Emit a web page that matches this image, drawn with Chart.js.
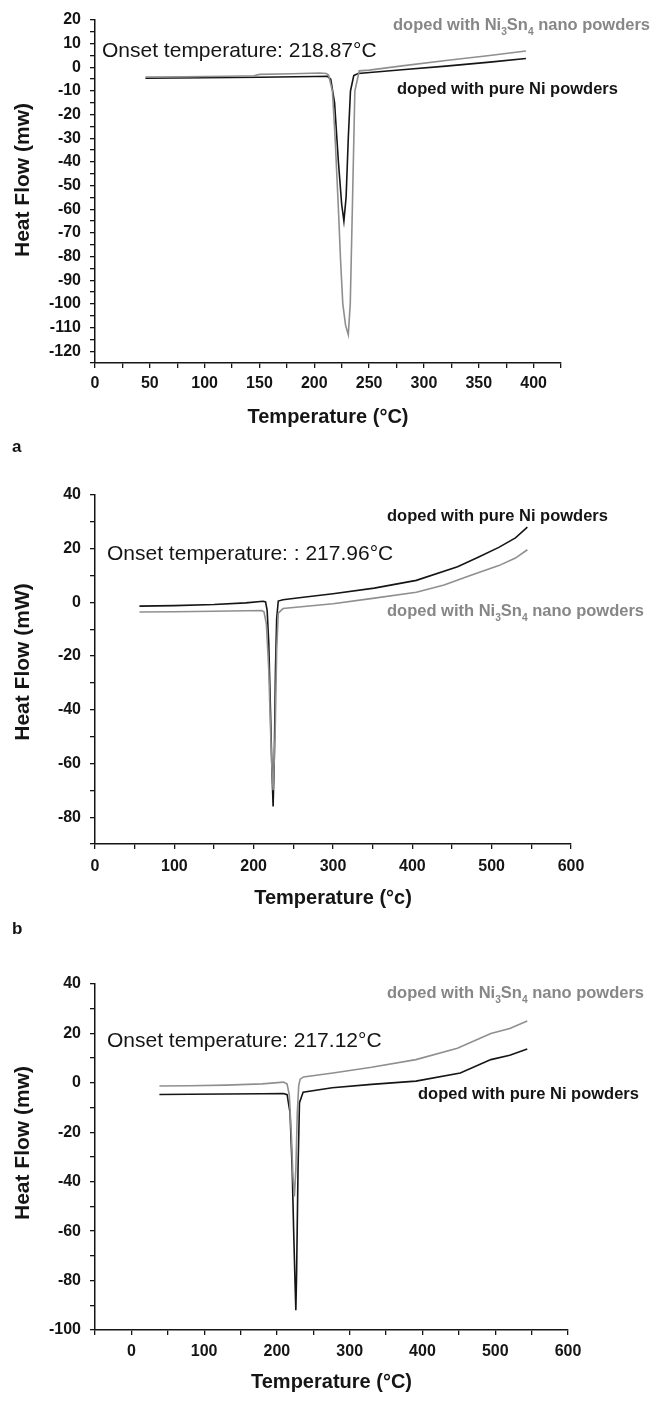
<!DOCTYPE html>
<html>
<head>
<meta charset="utf-8">
<script src="https://cdn.jsdelivr.net/npm/chart.js@4.4.1/dist/chart.umd.min.js"></script>
<style>
  html, body { margin: 0; padding: 0; background: #fff; }
  body { position: relative; width: 652px; height: 1407px; overflow: hidden; }
  canvas { position: absolute; left: 0; }
  .tag { position: absolute; left: 12px; font: bold 17px "Liberation Sans", Arial, sans-serif; color: #111; }
</style>
</head>
<body>
<canvas id="dscA" width="652" height="440" style="top:0"></canvas>
<canvas id="dscB" width="652" height="480" style="top:440px"></canvas>
<canvas id="dscC" width="652" height="487" style="top:920px"></canvas>
<div class="tag" style="top:437px">a</div>
<div class="tag" style="top:919px">b</div>

<script>
// (a) DSC curves up to 425 °C
const aTempNi3Sn4 = [46, 80, 120, 145, 150, 180, 205, 211, 213, 216.5, 219, 222, 224, 226, 228.5, 231, 232.8, 234.7, 237, 241, 250, 280, 320, 360, 393];
const aFlowNi3Sn4 = [-4.1, -4.0, -3.8, -3.6, -3.0, -2.7, -2.4, -2.6, -3.2, -10, -30, -60, -82, -100, -109, -113, -100, -60, -10, -1.5, -1.2, 0.6, 2.9, 5.0, 6.9];
const aTempNi = [46, 100, 150, 200, 212, 215, 218.5, 222, 225, 227, 229, 231, 233, 236, 240, 280, 320, 360, 393];
const aFlowNi = [-4.6, -4.4, -4.2, -3.9, -3.8, -5, -15, -40, -58, -65, -55, -30, -10, -3.5, -2.6, -1.0, 0.5, 2.2, 3.7];

// (b) DSC curves up to 600 °C
const bTempNi = [56, 100, 150, 190, 212, 215, 217, 219, 221, 223, 224.5, 226, 227.5, 229, 231, 237, 260, 300, 352, 405, 457, 483, 509, 530, 545];
const bFlowNi = [-1.4, -1.2, -0.8, -0.2, 0.4, 0.2, -3, -15, -38, -62, -76, -58, -25, -6, 0.5, 1.0, 1.8, 3.2, 5.3, 8.2, 13.3, 16.8, 20.5, 24, 28];
const bTempNi3Sn4 = [56, 100, 150, 190, 210, 213, 216, 219, 221, 223, 224.5, 227, 229, 231, 237, 260, 300, 350, 405, 440, 473, 509, 530, 545];
const bFlowNi3Sn4 = [-3.6, -3.5, -3.3, -3.1, -3.0, -3.5, -8, -25, -45, -62, -70, -50, -18, -4, -2.3, -1.6, -0.5, 1.5, 3.8, 6.5, 10, 13.7, 16.5, 19.6];

// (c) DSC curves, axis from -50 °C
const cTempNi3Sn4 = [38.5, 80, 130, 180, 209, 214, 217, 220, 222, 224, 226, 228, 230, 232, 236.5, 277, 330, 391, 448, 494, 520, 544];
const cFlowNi3Sn4 = [-1.3, -1.2, -0.9, -0.4, 0.3, -0.5, -5, -22, -38, -46, -35, -12, -1, 1.5, 2.4, 4, 6.3, 9.4, 14, 20, 22, 25];
const cTempNi = [38.5, 80, 130, 180, 209, 214, 218, 221, 223, 225, 226, 227, 229, 231, 236, 276, 330, 391, 452, 494, 520, 544];
const cFlowNi = [-4.7, -4.6, -4.5, -4.4, -4.3, -4.8, -12, -35, -60, -82, -92, -78, -35, -8, -3.8, -2, -0.6, 0.7, 4, 9.4, 11.2, 13.7];

const FONT = '"Liberation Sans", Arial, sans-serif';
const INK = '#151515';
const GREY_LINE = '#8f8f8f';
const GREY_TEXT = '#878787';

const toPoints = (xs, ys) => xs.map((x, i) => ({ x, y: ys[i] }));

// draws free text labels (with optional subscripts) in canvas pixels,
// plus the rotated y-axis title
const notesPlugin = {
  id: 'notes',
  afterDraw(chart, args, opts) {
    const ctx = chart.ctx;
    (opts.items || []).forEach(item => {
      ctx.save();
      ctx.fillStyle = item.color;
      ctx.textBaseline = 'alphabetic';
      ctx.textAlign = 'left';
      let x = item.x;
      item.parts.forEach(p => {
        const size = p.sub ? item.size * 0.62 : item.size;
        ctx.font = `${item.weight} ${size}px ${FONT}`;
        ctx.fillText(p.t, x, item.y + (p.sub ? item.size * 0.28 : 0));
        x += ctx.measureText(p.t).width;
      });
      ctx.restore();
    });
    if (opts.yTitle) {
      const t = opts.yTitle;
      ctx.save();
      ctx.translate(t.x, t.y);
      ctx.rotate(-Math.PI / 2);
      ctx.font = `bold 21px ${FONT}`;
      ctx.fillStyle = INK;
      ctx.textAlign = 'center';
      ctx.textBaseline = 'middle';
      ctx.fillText(t.text, 0, 0);
      ctx.restore();
    }
  }
};

const ni3sn4Label = (x, y) => ({
  x, y, size: 16.5, weight: 'bold', color: GREY_TEXT,
  parts: [{ t: 'doped with Ni' }, { t: '3', sub: true }, { t: 'Sn' }, { t: '4', sub: true }, { t: ' nano powders' }]
});
const niLabel = (x, y) => ({
  x, y, size: 16.5, weight: 'bold', color: INK,
  parts: [{ t: 'doped with pure Ni powders' }]
});
const onsetLabel = (text, x, y) => ({
  x, y, size: 21, weight: 'normal', color: INK, parts: [{ t: text }]
});

function makePanel(id, cfg) {
  const canvas = document.getElementById(id);
  const H = canvas.height;
  const axisLine = { color: INK, width: 1.5 };
  const grid = { display: true, drawOnChartArea: false, drawTicks: true, tickLength: 5, color: INK, lineWidth: 1.3 };
  return new Chart(canvas, {
    type: 'line',
    data: {
      datasets: cfg.series.map(s => ({
        data: toPoints(s.x, s.y),
        borderColor: s.color,
        borderWidth: 1.6,
        pointRadius: 0,
        tension: 0,
        fill: false
      }))
    },
    options: {
      responsive: false,
      animation: false,
      layout: { padding: { top: cfg.top, right: 652 - cfg.right, left: 0, bottom: 0 } },
      plugins: {
        legend: { display: false },
        tooltip: { enabled: false },
        notes: { items: cfg.notes, yTitle: { text: cfg.yTitle, x: 23, y: cfg.yTitleAt } }
      },
      scales: {
        x: {
          type: 'linear',
          min: cfg.xMin, max: cfg.xMax,
          border: axisLine, grid,
          afterFit(scale) {
            scale.height = H - cfg.bottom;
            scale.paddingLeft = 0; scale.paddingRight = 0;
          },
          ticks: {
            stepSize: cfg.xStep, autoSkip: false, maxRotation: 0, padding: cfg.xPad,
            color: INK, font: { family: FONT, size: 16, weight: 'bold' },
            callback: v => (v % cfg.xLabelEvery === 0 && v >= 0 ? String(v) : '')
          },
          title: {
            display: true, text: cfg.xTitle, color: INK,
            font: { family: FONT, size: 20, weight: 'bold' },
            padding: { top: 0, bottom: cfg.xTitlePad }
          }
        },
        y: {
          type: 'linear',
          min: cfg.yMin, max: cfg.yMax,
          border: axisLine, grid,
          afterFit(scale) {
            scale.width = 95;
            scale.paddingTop = 0; scale.paddingBottom = 0;
          },
          ticks: {
            stepSize: cfg.yStep, autoSkip: false, padding: 9,
            color: INK, font: { family: FONT, size: 16, weight: 'bold' },
            callback: v => (v % cfg.yLabelEvery === 0 ? String(v) : '')
          },
          title: { display: false }
        }
      }
    },
    plugins: [notesPlugin]
  });
}

makePanel('dscA', {
  top: 20, bottom: 363, right: 561,
  xMin: 0, xMax: 425, xStep: 25, xLabelEvery: 50, xPad: 6, xTitlePad: 11,
  yMin: -125, yMax: 20, yStep: 5, yLabelEvery: 10,
  xTitle: 'Temperature (°C)', yTitle: 'Heat Flow (mw)', yTitleAt: 180,
  series: [
    { x: aTempNi3Sn4, y: aFlowNi3Sn4, color: GREY_LINE },
    { x: aTempNi, y: aFlowNi, color: INK }
  ],
  notes: [
    onsetLabel('Onset temperature: 218.87°C', 102, 57),
    ni3sn4Label(393, 30),
    niLabel(397, 94)
  ]
});

makePanel('dscB', {
  top: 55, bottom: 404, right: 571,
  xMin: 0, xMax: 600, xStep: 50, xLabelEvery: 100, xPad: 8, xTitlePad: 10,
  yMin: -90, yMax: 40, yStep: 10, yLabelEvery: 20,
  xTitle: 'Temperature (°c)', yTitle: 'Heat Flow (mW)', yTitleAt: 222,
  series: [
    { x: bTempNi3Sn4, y: bFlowNi3Sn4, color: GREY_LINE },
    { x: bTempNi, y: bFlowNi, color: INK }
  ],
  notes: [
    niLabel(387, 81),
    onsetLabel('Onset temperature: : 217.96°C', 107, 120),
    ni3sn4Label(387, 176)
  ]
});

makePanel('dscC', {
  top: 64, bottom: 410, right: 568,
  xMin: -50, xMax: 600, xStep: 50, xLabelEvery: 100, xPad: 7, xTitlePad: 13,
  yMin: -100, yMax: 40, yStep: 10, yLabelEvery: 20,
  xTitle: 'Temperature (°C)', yTitle: 'Heat Flow (mw)', yTitleAt: 223,
  series: [
    { x: cTempNi3Sn4, y: cFlowNi3Sn4, color: GREY_LINE },
    { x: cTempNi, y: cFlowNi, color: INK }
  ],
  notes: [
    ni3sn4Label(387, 78),
    onsetLabel('Onset temperature: 217.12°C', 107, 127),
    niLabel(418, 179)
  ]
});
</script>
</body>
</html>
